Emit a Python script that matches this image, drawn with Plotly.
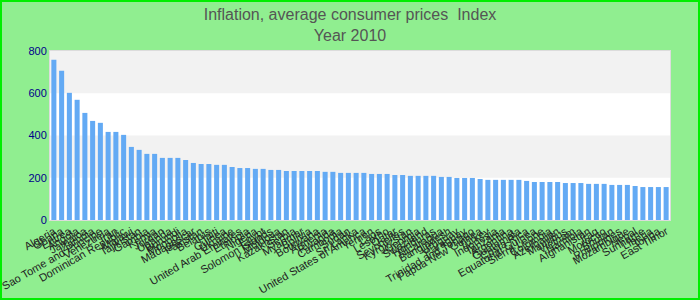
import plotly.graph_objects as go

countries = [
    "Algeria", "Ghana", "Eritrea", "Angola", "Jamaica", "Zambia", "Sao Tome and Principe",
    "Venezuela", "Iran", "Dominican Republic", "Malawi", "Tajikistan", "Gambia", "Kenya",
    "Jordan", "Uganda", "Burundi", "Mongolia", "Madagascar", "Pakistan", "Belarus", "Haiti",
    "Guinea", "Ukraine", "United Arab Emirates", "Ethiopia", "Nigeria", "Egypt",
    "Solomon Islands", "Moldova", "Kazakhstan", "Serbia", "Myanmar", "Bolivia", "Botswana",
    "Armenia", "Rwanda", "Cambodia", "Sudan", "Sri Lanka", "United States of America",
    "Yemen", "Laos", "Lesotho", "Qatar", "Seychelles", "Kyrgyzstan", "Georgia", "Swaziland",
    "Honduras", "Nicaragua", "Bangladesh", "Uruguay", "Paraguay", "Trinidad and Tobago",
    "Papua New Guinea", "Turkey", "Indonesia", "Tanzania", "Argentina", "Guatemala",
    "Costa Rica", "Equatorial Guinea", "Sierra Leone", "Colombia", "Azerbaijan", "Mauritius",
    "Vietnam", "Namibia", "Afghanistan", "Iraq", "Morocco", "Bhutan", "Philippines",
    "Mozambique", "Nepal", "Suriname", "Liberia", "Tonga", "East Timor",
]

values = [
    758, 706, 602, 569, 507, 469, 460, 417, 417, 403,
    346, 332, 313, 313, 294, 294, 294, 284, 270, 265,
    265, 261, 261, 251, 246, 246, 242, 242, 237, 237,
    232, 232, 232, 232, 232, 228, 228, 223, 223, 223,
    223, 218, 218, 218, 213, 213, 209, 209, 209, 209,
    204, 204, 199, 199, 199, 194, 190, 190, 190, 190,
    190, 185, 180, 180, 180, 180, 175, 175, 175, 171,
    171, 171, 166, 166, 166, 161, 156, 156, 156, 156,
]

title_text = "Inflation, average consumer prices  Index<br>Year 2010"
y_ticks = [0, 200, 400, 600, 800]

fig = go.Figure(go.Bar(x=countries, y=values, marker=dict(color="#63aaf4", line=dict(width=0))))

L, R, T, B = 50, 30, 51, 80
W, H = 700, 300
pw, ph = W - L - R, H - T - B

shapes = []
for lo, hi in [(200, 400), (600, 800)]:
    shapes.append(dict(type="rect", xref="paper", yref="y", x0=0, x1=1, y0=lo, y1=hi,
                       fillcolor="#f2f2f2", line=dict(width=0), layer="below"))
shapes.append(dict(type="rect", xref="paper", yref="paper",
                   x0=(1 - L) / pw, x1=(W - 1 - L) / pw,
                   y0=-(B - 1) / ph, y1=(ph + T - 1) / ph,
                   line=dict(color="#00ee00", width=2), fillcolor="rgba(0,0,0,0)"))

fig.update_layout(
    width=W, height=H,
    margin=dict(l=L, r=R, t=T, b=B, pad=0),
    paper_bgcolor="#90ee90",
    plot_bgcolor="#ffffff",
    bargap=0.35,
    showlegend=False,
    font=dict(family="Arial", size=11, color="#222222"),
    title=dict(text=title_text, x=0.5, xanchor="center", yref="container",
               y=1 - 20 / H, yanchor="middle",
               font=dict(family="Arial", size=16, color="#555555")),
    shapes=shapes,
    xaxis=dict(tickangle=-30, dtick=1, showgrid=False, showline=True, mirror=True,
               linecolor="#dcdcdc", linewidth=1, ticks="", automargin=False,
               tickfont=dict(size=11, color="#222222")),
    yaxis=dict(range=[0, 800], tickvals=y_ticks, showgrid=False, zeroline=False,
               showline=True, mirror=True, linecolor="#dcdcdc", linewidth=1,
               automargin=False, tickfont=dict(size=11, color="#00008b")),
)

fig.write_html("out.html")
